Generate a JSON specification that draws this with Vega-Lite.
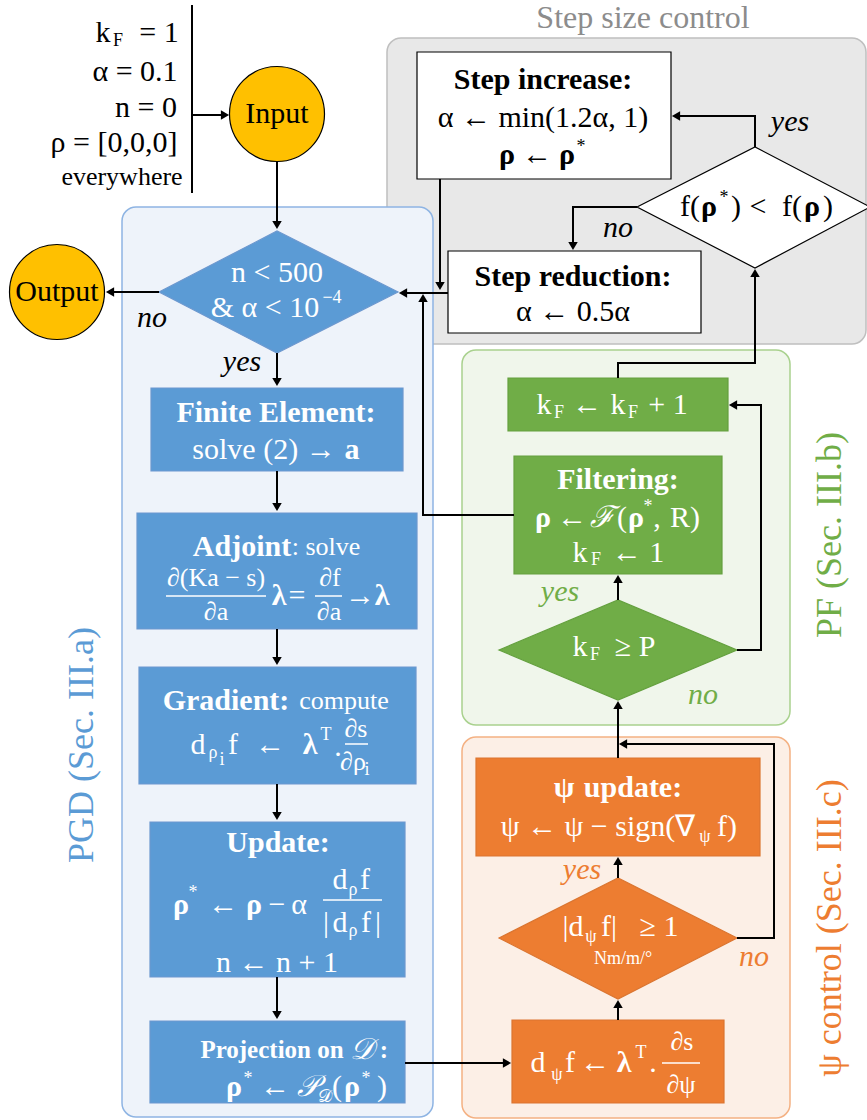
{
"$schema": "https://vega.github.io/schema/vega-lite/v6.json",
"width": 867, "height": 1120, "padding": 0, "autosize": {"type": "none"},
"background": "white",
"config": {"view": {"stroke": null}, "text": {"font": "Liberation Serif"}},
"datasets": {
"containers": [
{"x":387,"x2":866,"y":38,"y2":344,"c":"bgGr"},
{"x":122,"x2":433,"y":207,"y2":1117,"c":"bgB"},
{"x":462,"x2":790,"y":350,"y2":725,"c":"bgG"},
{"x":462,"x2":790,"y":737,"y2":1118,"c":"bgO"}],
"boxes": [
{"x":151,"x2":403,"y":388,"y2":471,"c":"B"},
{"x":137,"x2":417,"y":513,"y2":629,"c":"B"},
{"x":139,"x2":416,"y":667,"y2":784,"c":"B"},
{"x":150,"x2":405,"y":822,"y2":977,"c":"B"},
{"x":150,"x2":405,"y":1021,"y2":1103,"c":"B"},
{"x":417,"x2":671,"y":52,"y2":179,"c":"W"},
{"x":448,"x2":701,"y":251,"y2":333,"c":"W"},
{"x":508,"x2":728,"y":378,"y2":431,"c":"G"},
{"x":514,"x2":722,"y":456,"y2":574,"c":"G"},
{"x":476,"x2":760,"y":758,"y2":856,"c":"O"},
{"x":512,"x2":724,"y":1020,"y2":1103,"c":"O"}],
"diamonds": [
{"x":159,"y":292,"y2":292,"c":"B"},{"x":277,"y":231,"y2":353,"c":"B"},{"x":398,"y":292,"y2":292,"c":"B"},
{"x":637,"y":207,"y2":207,"c":"W"},{"x":755,"y":147,"y2":268,"c":"W"},{"x":870,"y":207,"y2":207,"c":"W"},
{"x":499,"y":650,"y2":650,"c":"G"},{"x":618,"y":600,"y2":700,"c":"G"},{"x":737,"y":650,"y2":650,"c":"G"},
{"x":499,"y":938,"y2":938,"c":"O"},{"x":618,"y":878,"y2":999,"c":"O"},{"x":737,"y":938,"y2":938,"c":"O"}],
"circles": [{"x":277,"y":114},{"x":57,"y":292}],
"lines": [
{"id":1,"o":1,"x":192,"y":5},{"id":1,"o":2,"x":192,"y":193},
{"id":2,"o":1,"x":192,"y":115},{"id":2,"o":2,"x":226,"y":115},
{"id":3,"o":1,"x":277,"y":162},{"id":3,"o":2,"x":277,"y":226},
{"id":4,"o":1,"x":159,"y":292},{"id":4,"o":2,"x":108,"y":292},
{"id":5,"o":1,"x":277,"y":353},{"id":5,"o":2,"x":277,"y":383},
{"id":6,"o":1,"x":277,"y":471},{"id":6,"o":2,"x":277,"y":508},
{"id":7,"o":1,"x":277,"y":629},{"id":7,"o":2,"x":277,"y":662},
{"id":8,"o":1,"x":277,"y":784},{"id":8,"o":2,"x":277,"y":817},
{"id":9,"o":1,"x":277,"y":977},{"id":9,"o":2,"x":277,"y":1016},
{"id":10,"o":1,"x":405,"y":1063},{"id":10,"o":2,"x":508,"y":1063},
{"id":11,"o":1,"x":618,"y":1020},{"id":11,"o":2,"x":618,"y":1003},
{"id":12,"o":1,"x":618,"y":878},{"id":12,"o":2,"x":618,"y":860},
{"id":13,"o":1,"x":618,"y":758},{"id":13,"o":2,"x":618,"y":704},
{"id":14,"o":1,"x":737,"y":938},{"id":14,"o":2,"x":774,"y":938},{"id":14,"o":3,"x":774,"y":744},{"id":14,"o":4,"x":622,"y":744},
{"id":15,"o":1,"x":618,"y":600},{"id":15,"o":2,"x":618,"y":578},
{"id":16,"o":1,"x":737,"y":650},{"id":16,"o":2,"x":761,"y":650},{"id":16,"o":3,"x":761,"y":405},{"id":16,"o":4,"x":732,"y":405},
{"id":17,"o":1,"x":618,"y":378},{"id":17,"o":2,"x":618,"y":363},{"id":17,"o":3,"x":755,"y":363},{"id":17,"o":4,"x":755,"y":272},
{"id":18,"o":1,"x":514,"y":515},{"id":18,"o":2,"x":423,"y":515},{"id":18,"o":3,"x":423,"y":297},
{"id":19,"o":1,"x":448,"y":293},{"id":19,"o":2,"x":402,"y":293},
{"id":20,"o":1,"x":440,"y":179},{"id":20,"o":2,"x":440,"y":287},
{"id":21,"o":1,"x":755,"y":147},{"id":21,"o":2,"x":755,"y":116},{"id":21,"o":3,"x":675,"y":116},
{"id":22,"o":1,"x":637,"y":207},{"id":22,"o":2,"x":573,"y":207},{"id":22,"o":3,"x":573,"y":247}],
"heads": [
{"x":225,"y":115,"dir":"right"},{"x":277,"y":225,"dir":"down"},{"x":110,"y":292,"dir":"left"},
{"x":277,"y":382,"dir":"down"},{"x":277,"y":507,"dir":"down"},{"x":277,"y":661,"dir":"down"},
{"x":277,"y":816,"dir":"down"},{"x":277,"y":1015,"dir":"down"},{"x":507,"y":1063,"dir":"right"},
{"x":618,"y":1004,"dir":"up"},{"x":618,"y":861,"dir":"up"},{"x":618,"y":705,"dir":"up"},
{"x":623,"y":744,"dir":"left"},{"x":618,"y":579,"dir":"up"},{"x":733,"y":405,"dir":"left"},
{"x":755,"y":273,"dir":"up"},{"x":423,"y":298,"dir":"up"},{"x":403,"y":293,"dir":"left"},
{"x":440,"y":286,"dir":"down"},{"x":676,"y":116,"dir":"left"},{"x":573,"y":246,"dir":"down"}],
"bars": [
{"x":166,"x2":266,"y":596},{"x":315,"x2":342,"y":596},
{"x":345,"x2":368,"y":744},{"x":323,"x2":382,"y":900},{"x":662,"x2":700,"y":1063}],
"treg": [
{"x":103,"y":33,"t":"k","c":"k"},{"x":159,"y":33,"t":"= 1","c":"k"},
{"x":135,"y":72,"t":"α = 0.1","c":"k"},{"x":146,"y":108,"t":"n = 0","c":"k"},
{"x":114,"y":143,"t":"ρ = [0,0,0]","c":"k"},
{"x":277,"y":114,"t":"Input","c":"k"},{"x":57,"y":292,"t":"Output","c":"k"},
{"x":277,"y":273,"t":"n < 500","c":"w"},{"x":265,"y":308,"t":"& α < 10","c":"w"},
{"x":264,"y":450,"t":"solve (2) →","c":"w"},
{"x":297,"y":596,"t":"=","c":"w"},{"x":360,"y":596,"t":"→","c":"w"},
{"x":198,"y":745,"t":"d","c":"w"},{"x":233,"y":745,"t":"f","c":"w"},{"x":270,"y":745,"t":"←","c":"w"},{"x":338,"y":747,"t":".","c":"w"},
{"x":223,"y":905,"t":"←","c":"w"},{"x":277,"y":905,"t":"−","c":"w"},{"x":299,"y":905,"t":"α","c":"w"},
{"x":340,"y":880,"t":"d","c":"w"},{"x":365,"y":880,"t":"f","c":"w"},
{"x":326,"y":923,"t":"|","c":"w"},{"x":340,"y":923,"t":"d","c":"w"},{"x":366,"y":923,"t":"f","c":"w"},{"x":378,"y":923,"t":"|","c":"w"},
{"x":277,"y":963,"t":"n ← n + 1","c":"w"},
{"x":275,"y":1087,"t":"←","c":"w"},{"x":337,"y":1087,"t":"(","c":"w"},{"x":382,"y":1087,"t":")","c":"w"},
{"x":543,"y":118,"t":"α ← min(1.2α, 1)","c":"k"},{"x":537,"y":155,"t":"←","c":"k"},
{"x":690,"y":207,"t":"f(","c":"k"},{"x":736,"y":207,"t":")","c":"k"},{"x":758,"y":207,"t":"<","c":"k"},{"x":792,"y":207,"t":"f(","c":"k"},{"x":828,"y":207,"t":")","c":"k"},
{"x":573,"y":312,"t":"α ← 0.5α","c":"k"},
{"x":544,"y":405,"t":"k","c":"w"},{"x":587,"y":405,"t":"←","c":"w"},{"x":618,"y":405,"t":"k","c":"w"},{"x":668,"y":405,"t":"+ 1","c":"w"},
{"x":572,"y":518,"t":"←","c":"w"},{"x":622,"y":518,"t":"(","c":"w"},{"x":657,"y":518,"t":",","c":"w"},{"x":685,"y":518,"t":"R)","c":"w"},
{"x":580,"y":553,"t":"k","c":"w"},{"x":638,"y":553,"t":"← 1","c":"w"},
{"x":580,"y":647,"t":"k","c":"w"},{"x":635,"y":647,"t":"≥ P","c":"w"},
{"x":598,"y":827,"t":"ψ ← ψ − sign(∇","c":"w"},{"x":727,"y":827,"t":"f)","c":"w"},
{"x":573,"y":927,"t":"|d","c":"w"},{"x":609,"y":927,"t":"f|","c":"w"},{"x":659,"y":927,"t":"≥ 1","c":"w"},
{"x":538,"y":1063,"t":"d","c":"w"},{"x":570,"y":1063,"t":"f","c":"w"},{"x":595,"y":1063,"t":"←","c":"w"},{"x":653,"y":1063,"t":".","c":"w"}],
"tbold": [
{"x":276,"y":413,"t":"Finite Element:","c":"w"},{"x":352,"y":450,"t":"a","c":"w"},
{"x":242,"y":547,"t":"Adjoint","c":"w"},{"x":279,"y":596,"t":"λ","c":"w"},{"x":382,"y":596,"t":"λ","c":"w"},
{"x":226,"y":701,"t":"Gradient:","c":"w"},{"x":310,"y":745,"t":"λ","c":"w"},
{"x":278,"y":843,"t":"Update:","c":"w"},{"x":181,"y":905,"t":"ρ","c":"w"},{"x":254,"y":905,"t":"ρ","c":"w"},
{"x":234,"y":1087,"t":"ρ","c":"w"},{"x":352,"y":1087,"t":"ρ","c":"w"},
{"x":543,"y":80,"t":"Step increase:","c":"k"},{"x":507,"y":155,"t":"ρ","c":"k"},{"x":567,"y":155,"t":"ρ","c":"k"},
{"x":709,"y":207,"t":"ρ","c":"k"},{"x":812,"y":207,"t":"ρ","c":"k"},
{"x":573,"y":277,"t":"Step reduction:","c":"k"},
{"x":618,"y":480,"t":"Filtering:","c":"w"},{"x":543,"y":518,"t":"ρ","c":"w"},{"x":636,"y":518,"t":"ρ","c":"w"},
{"x":564,"y":788,"t":"ψ","c":"w"},{"x":633,"y":788,"t":"update:","c":"w"},
{"x":624,"y":1063,"t":"λ","c":"w"}],
"tboldsm": [
{"x":272,"y":1050,"t":"Projection on","c":"w"},{"x":384,"y":1050,"t":":","c":"w"}],
"tsmall": [
{"x":118,"y":41,"t":"F","c":"k"},{"x":332,"y":298,"t":"−4","c":"w"},
{"x":213,"y":753,"t":"ρ","c":"w"},{"x":222,"y":760,"t":"i","c":"w"},{"x":326,"y":735,"t":"T","c":"w"},{"x":367,"y":770,"t":"i","c":"w"},
{"x":193,"y":893,"t":"*","c":"w"},{"x":353,"y":890,"t":"ρ","c":"w"},{"x":353,"y":931,"t":"ρ","c":"w"},
{"x":248,"y":1079,"t":"*","c":"w"},{"x":366,"y":1079,"t":"*","c":"w"},{"x":325,"y":1097,"t":"𝒟","c":"w"},
{"x":581,"y":147,"t":"*","c":"k"},{"x":724,"y":198,"t":"*","c":"k"},
{"x":559,"y":413,"t":"F","c":"w"},{"x":633,"y":413,"t":"F","c":"w"},
{"x":648,"y":507,"t":"*","c":"w"},{"x":596,"y":560,"t":"F","c":"w"},{"x":595,"y":655,"t":"F","c":"w"},
{"x":705,"y":837,"t":"ψ","c":"w"},{"x":591,"y":937,"t":"ψ","c":"w"},{"x":623,"y":959,"t":"Nm/m/°","c":"w"},
{"x":557,"y":1075,"t":"ψ","c":"w"},{"x":641,"y":1053,"t":"T","c":"w"}],
"tmid": [
{"x":122,"y":177,"t":"everywhere","c":"k"},
{"x":326,"y":547,"t":": solve","c":"w"},{"x":344,"y":701,"t":"compute","c":"w"},
{"x":216,"y":578,"t":"∂(Ka − s)","c":"w"},{"x":216,"y":612,"t":"∂a","c":"w"},
{"x":330,"y":578,"t":"∂f","c":"w"},{"x":329,"y":612,"t":"∂a","c":"w"},
{"x":356,"y":729,"t":"∂s","c":"w"},{"x":353,"y":762,"t":"∂ρ","c":"w"},
{"x":682,"y":1042,"t":"∂s","c":"w"},{"x":681,"y":1085,"t":"∂ψ","c":"w"}],
"tital": [
{"x":152,"y":318,"t":"no","c":"k"},{"x":242,"y":362,"t":"yes","c":"k"},
{"x":790,"y":122,"t":"yes","c":"k"},{"x":618,"y":228,"t":"no","c":"k"},
{"x":560,"y":592,"t":"yes","c":"g"},{"x":703,"y":695,"t":"no","c":"g"},
{"x":582,"y":870,"t":"yes","c":"o"},{"x":754,"y":957,"t":"no","c":"o"},
{"x":308,"y":1087,"t":"𝒫","c":"w"},{"x":362,"y":1050,"t":"𝒟","c":"w"},{"x":602,"y":518,"t":"ℱ","c":"w"}],
"tvert": [
{"x":82,"y":745,"t":"PGD (Sec. III.a)","c":"b"},
{"x":830,"y":535,"t":"PF (Sec. III.b)","c":"g"},
{"x":830,"y":928,"t":"ψ control (Sec. III.c)","c":"o"}],
"ttitle": [{"x":643,"y":18,"t":"Step size control","c":"gr"}]
},
"encoding": {
"x": {"field":"x","type":"quantitative","scale":{"domain":[0,867],"nice":false,"zero":false},"axis":null},
"y": {"field":"y","type":"quantitative","scale":{"domain":[0,1120],"nice":false,"zero":false,"reverse":true},"axis":null}
},
"layer": [
{"data":{"name":"containers"},"mark":{"type":"rect","cornerRadius":14,"strokeWidth":1.5},
 "encoding":{"x2":{"field":"x2"},"y2":{"field":"y2"},
 "fill":{"field":"c","type":"nominal","legend":null,"scale":{"domain":["bgB","bgGr","bgG","bgO","B","W","G","O"],"range":["#EEF3FA","#E8E8E8","#F0F6EB","#FCEFE6","#5B9BD5","#FFFFFF","#70AD47","#ED7D31"]}},
 "stroke":{"field":"c","type":"nominal","legend":null,"scale":{"domain":["bgB","bgGr","bgG","bgO","B","W","G","O"],"range":["#8EB4E3","#BFBFBF","#A9D18E","#F4B183","#6C98CF","#000000","#64A03E","#DB7530"]}}}},
{"data":{"name":"boxes"},"mark":{"type":"rect","strokeWidth":1.2},
 "encoding":{"x2":{"field":"x2"},"y2":{"field":"y2"},
 "fill":{"field":"c","type":"nominal","legend":null,"scale":{"domain":["bgB","bgGr","bgG","bgO","B","W","G","O"],"range":["#EEF3FA","#E8E8E8","#F0F6EB","#FCEFE6","#5B9BD5","#FFFFFF","#70AD47","#ED7D31"]}},
 "stroke":{"field":"c","type":"nominal","legend":null,"scale":{"domain":["bgB","bgGr","bgG","bgO","B","W","G","O"],"range":["#8EB4E3","#BFBFBF","#A9D18E","#F4B183","#6C98CF","#000000","#64A03E","#DB7530"]}}}},
{"data":{"name":"diamonds"},"mark":{"type":"area","strokeWidth":1.2,"fillOpacity":1},
 "encoding":{"y":{"field":"y","type":"quantitative","stack":null,"scale":{"domain":[0,1120],"nice":false,"zero":false,"reverse":true},"axis":null},"y2":{"field":"y2"},
 "fill":{"field":"c","type":"nominal","legend":null,"scale":{"domain":["bgB","bgGr","bgG","bgO","B","W","G","O"],"range":["#EEF3FA","#E8E8E8","#F0F6EB","#FCEFE6","#5B9BD5","#FFFFFF","#70AD47","#ED7D31"]}},
 "stroke":{"field":"c","type":"nominal","legend":null,"scale":{"domain":["bgB","bgGr","bgG","bgO","B","W","G","O"],"range":["#8EB4E3","#BFBFBF","#A9D18E","#F4B183","#6C98CF","#000000","#64A03E","#DB7530"]}},
 "detail":{"field":"c"}}},
{"data":{"name":"circles"},"mark":{"type":"point","shape":"circle","filled":true,"fill":"#FFC000","stroke":"#000000","strokeWidth":1.2,"opacity":1,"size":9025},"encoding":{}},
{"data":{"name":"lines"},"mark":{"type":"line","color":"#000000","strokeWidth":2},
 "encoding":{"detail":{"field":"id","type":"nominal"},"order":{"field":"o","type":"quantitative"}}},
{"data":{"name":"heads"},"mark":{"type":"point","filled":true,"color":"#000000","opacity":1,"size":90},
 "encoding":{"shape":{"field":"dir","type":"nominal","legend":null,"scale":{"domain":["up","down","left","right"],"range":["triangle-up","triangle-down","triangle-left","triangle-right"]}}}},
{"data":{"name":"bars"},"mark":{"type":"rule","color":"#FFFFFF","strokeWidth":1.5},"encoding":{"x2":{"field":"x2"}}},
{"data":{"name":"treg"},"mark":{"type":"text","font":"Liberation Serif","fontSize":30,"align":"center","baseline":"middle"},
 "encoding":{"text":{"field":"t"},"color":{"field":"c","type":"nominal","legend":null,"scale":{"domain":["w","k","b","g","o","gr"],"range":["#FFFFFF","#000000","#5B9BD5","#70AD47","#ED7D31","#8C8C8C"]}}}},
{"data":{"name":"tbold"},"mark":{"type":"text","font":"Liberation Serif","fontSize":30,"fontWeight":"bold","align":"center","baseline":"middle"},
 "encoding":{"text":{"field":"t"},"color":{"field":"c","type":"nominal","legend":null,"scale":{"domain":["w","k","b","g","o","gr"],"range":["#FFFFFF","#000000","#5B9BD5","#70AD47","#ED7D31","#8C8C8C"]}}}},
{"data":{"name":"tboldsm"},"mark":{"type":"text","font":"Liberation Serif","fontSize":25,"fontWeight":"bold","align":"center","baseline":"middle"},
 "encoding":{"text":{"field":"t"},"color":{"field":"c","type":"nominal","legend":null,"scale":{"domain":["w","k","b","g","o","gr"],"range":["#FFFFFF","#000000","#5B9BD5","#70AD47","#ED7D31","#8C8C8C"]}}}},
{"data":{"name":"tsmall"},"mark":{"type":"text","font":"Liberation Serif","fontSize":18,"align":"center","baseline":"middle"},
 "encoding":{"text":{"field":"t"},"color":{"field":"c","type":"nominal","legend":null,"scale":{"domain":["w","k","b","g","o","gr"],"range":["#FFFFFF","#000000","#5B9BD5","#70AD47","#ED7D31","#8C8C8C"]}}}},
{"data":{"name":"tmid"},"mark":{"type":"text","font":"Liberation Serif","fontSize":26,"align":"center","baseline":"middle"},
 "encoding":{"text":{"field":"t"},"color":{"field":"c","type":"nominal","legend":null,"scale":{"domain":["w","k","b","g","o","gr"],"range":["#FFFFFF","#000000","#5B9BD5","#70AD47","#ED7D31","#8C8C8C"]}}}},
{"data":{"name":"tital"},"mark":{"type":"text","font":"Liberation Serif","fontSize":30,"fontStyle":"italic","align":"center","baseline":"middle"},
 "encoding":{"text":{"field":"t"},"color":{"field":"c","type":"nominal","legend":null,"scale":{"domain":["w","k","b","g","o","gr"],"range":["#FFFFFF","#000000","#5B9BD5","#70AD47","#ED7D31","#8C8C8C"]}}}},
{"data":{"name":"tvert"},"mark":{"type":"text","font":"Liberation Serif","fontSize":36,"angle":270,"align":"center","baseline":"middle"},
 "encoding":{"text":{"field":"t"},"color":{"field":"c","type":"nominal","legend":null,"scale":{"domain":["w","k","b","g","o","gr"],"range":["#FFFFFF","#000000","#5B9BD5","#70AD47","#ED7D31","#8C8C8C"]}}}},
{"data":{"name":"ttitle"},"mark":{"type":"text","font":"Liberation Serif","fontSize":32,"align":"center","baseline":"middle"},
 "encoding":{"text":{"field":"t"},"color":{"field":"c","type":"nominal","legend":null,"scale":{"domain":["w","k","b","g","o","gr"],"range":["#FFFFFF","#000000","#5B9BD5","#70AD47","#ED7D31","#8C8C8C"]}}}}
]
}
